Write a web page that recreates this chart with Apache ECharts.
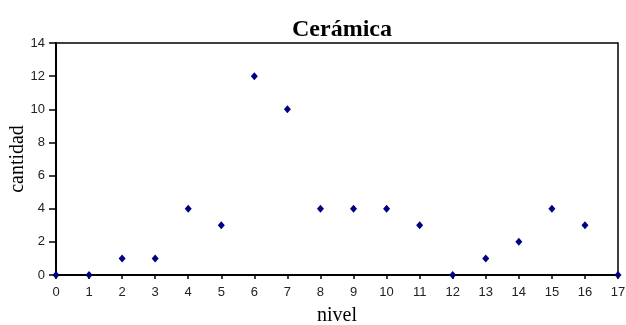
<!DOCTYPE html>
<html><head><meta charset="utf-8">
<script src="https://cdn.jsdelivr.net/npm/echarts@6/dist/echarts.min.js"></script>
<style>html,body{margin:0;padding:0;background:#fff}#c{width:626px;height:325px}</style>
</head><body><div id="c"></div>
<script>
const niveles = [0,1,2,3,4,5,6,7,8,9,10,11,12,13,14,15,16,17];
const cantidad = [0,0,1,1,4,3,12,10,4,4,4,3,0,1,2,4,3,0];
const chart = echarts.init(document.getElementById('c'), null, {renderer:'canvas'});
chart.setOption({
  animation:false,
  backgroundColor:'#fff',
  title:{text:'Cerámica', left:337, textAlign:'center', top:13,
    textStyle:{fontFamily:'Liberation Serif', fontWeight:'bold', fontSize:24, color:'#000'}},
  grid:{left:56, right:8, top:43, bottom:50, outerBoundsMode:'none', containLabel:false,
    show:true, borderColor:'#000', borderWidth:1.5, backgroundColor:'transparent'},
  xAxis:{type:'value', min:0, max:17, interval:1,
    name:'nivel', nameLocation:'middle', nameGap:31, nameMoveOverlap:false,
    nameTextStyle:{fontFamily:'Liberation Serif', fontSize:20, color:'#000'},
    axisLine:{show:true, lineStyle:{color:'#000', width:2}},
    axisTick:{show:true, length:4, lineStyle:{color:'#000', width:1.5}},
    axisLabel:{fontFamily:'Liberation Sans', fontSize:13, color:'#222', margin:11},
    splitLine:{show:false}},
  yAxis:{type:'value', min:0, max:14, interval:2,
    name:'cantidad', nameLocation:'middle', nameGap:28, nameRotate:90, nameMoveOverlap:false,
    nameTextStyle:{fontFamily:'Liberation Serif', fontSize:20, color:'#000'},
    axisLine:{show:true, lineStyle:{color:'#000', width:2}},
    axisTick:{show:true, length:7, lineStyle:{color:'#000', width:1.5}},
    axisLabel:{fontFamily:'Liberation Sans', fontSize:13, color:'#222', margin:11},
    splitLine:{show:false}},
  series:[{type:'scatter', data:niveles.map((n,i)=>[n,cantidad[i]]),
    symbol:'diamond', symbolSize:[7,8], clip:false,
    itemStyle:{color:'#000080', opacity:1}}]
});
</script></body></html>
